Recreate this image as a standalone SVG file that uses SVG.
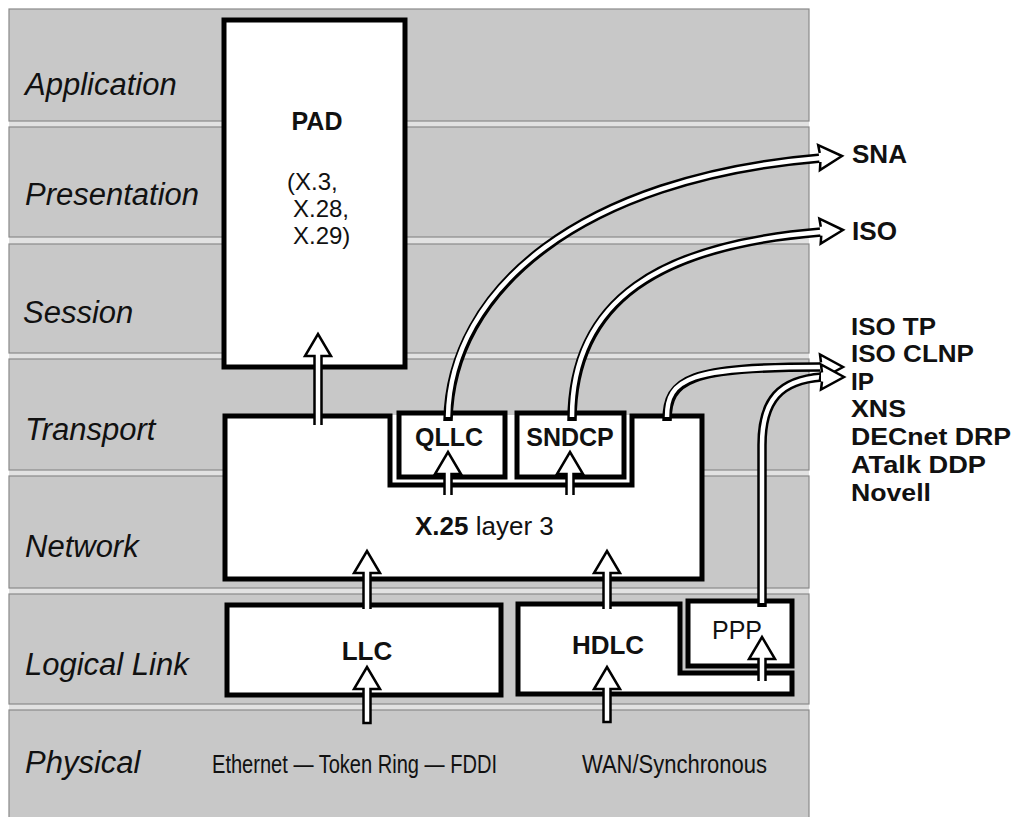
<svg xmlns="http://www.w3.org/2000/svg" width="1015" height="817" viewBox="0 0 1015 817">
<defs>
<style>
.bg{fill:#e2e2e2}
.band{fill:#c8c8c8;stroke:#8a8a8a;stroke-width:1.2}
.box{fill:#fff;stroke:#000;stroke-width:5;stroke-linejoin:miter}
.arr{fill:#fff;stroke:#000;stroke-width:2.5;stroke-linejoin:miter}
.tO{fill:none;stroke:#000;stroke-width:9.5}
.tI{fill:none;stroke:#fff;stroke-width:4.5}
.hf{fill:#fff;stroke:none}
.hs{fill:none;stroke:#000;stroke-width:2.5;stroke-linejoin:miter}
text{font-family:"Liberation Sans",Arial,Helvetica,sans-serif;fill:#111}
.lbl{font-style:italic;font-size:31px}
.bd{font-weight:bold}
.t23{font-size:23px}
.t24{font-size:24px}
.t25{font-size:25px}
.t26{font-size:26px}
</style>
<g id="head">
<polygon class="hf" points="-23,-4.5 -23,-12.5 0,0 -23,12.5 -23,4.5"/>
<polyline class="hs" points="-22,-4.5 -23,-12.5 0,0 -23,12.5 -22,4.5"/>
</g>
</defs>

<g id="layers">
<rect class="bg" x="9" y="9" width="800" height="808"/>
<rect class="band" x="9" y="9" width="800" height="112"/>
<rect class="band" x="9" y="127" width="800" height="110"/>
<rect class="band" x="9" y="244" width="800" height="109"/>
<rect class="band" x="9" y="359" width="800" height="111"/>
<rect class="band" x="9" y="476" width="800" height="112"/>
<rect class="band" x="9" y="594" width="800" height="110"/>
<rect class="band" x="9" y="710" width="800" height="110"/>
<text class="lbl" x="25" y="95">Application</text>
<text class="lbl" x="25" y="205">Presentation</text>
<text class="lbl" x="23" y="323">Session</text>
<text class="lbl" x="25" y="440">Transport</text>
<text class="lbl" x="25" y="557">Network</text>
<text class="lbl" x="25" y="675">Logical Link</text>
<text class="lbl" x="25" y="773">Physical</text>
<text class="t25" x="212" y="773" textLength="285" lengthAdjust="spacingAndGlyphs">Ethernet — Token Ring — FDDI</text>
<text class="t25" x="582" y="773" textLength="185" lengthAdjust="spacingAndGlyphs">WAN/Synchronous</text>
</g>

<g id="pad">
<rect class="box" x="224" y="20" width="181" height="347"/>
<text class="t25 bd" x="317" y="130" text-anchor="middle">PAD</text>
<text class="t24" x="287" y="190">(X.3,</text>
<text class="t24" x="293" y="217">X.28,</text>
<text class="t24" x="293" y="244">X.29)</text>
</g>

<g id="x25">
<rect x="390" y="415" width="243" height="70" fill="#fff"/>
<path class="box" d="M225,416 H390 V485 H632 V416 H702 V579 H225 Z"/>
<text class="t26" x="415" y="535"><tspan class="bd">X.25</tspan>  layer 3</text>
</g>

<g id="qllc">
<rect class="box" x="399" y="413" width="106" height="64"/>
<text class="t25 bd" x="449" y="446" text-anchor="middle">QLLC</text>
</g>

<g id="sndcp">
<rect class="box" x="517" y="413" width="107" height="64"/>
<text class="t25 bd" x="570" y="446" text-anchor="middle">SNDCP</text>
</g>

<g id="llc">
<rect class="box" x="227" y="605" width="274" height="90"/>
<text class="t26 bd" x="367" y="660" text-anchor="middle">LLC</text>
</g>

<g id="hdlc">
<path class="box" d="M518,604 H680 V673 H792 V694 H518 Z"/>
<text class="t26 bd" x="608" y="654" text-anchor="middle">HDLC</text>
</g>

<g id="ppp">
<rect class="box" x="688" y="601" width="104" height="65"/>
<text class="t25" x="737" y="639" text-anchor="middle">PPP</text>
</g>

<g id="protocols">
<text class="t25 bd" x="852" y="163" textLength="55" lengthAdjust="spacingAndGlyphs">SNA</text>
<text class="t25 bd" x="852" y="240" textLength="45" lengthAdjust="spacingAndGlyphs">ISO</text>
<text class="t23 bd" x="851" y="335" textLength="85" lengthAdjust="spacingAndGlyphs">ISO TP</text>
<text class="t23 bd" x="851" y="362" textLength="123" lengthAdjust="spacingAndGlyphs">ISO CLNP</text>
<text class="t23 bd" x="851" y="390" textLength="23" lengthAdjust="spacingAndGlyphs">IP</text>
<text class="t23 bd" x="851" y="417" textLength="55" lengthAdjust="spacingAndGlyphs">XNS</text>
<text class="t23 bd" x="851" y="445" textLength="160" lengthAdjust="spacingAndGlyphs">DECnet DRP</text>
<text class="t23 bd" x="851" y="473" textLength="135" lengthAdjust="spacingAndGlyphs">ATalk DDP</text>
<text class="t23 bd" x="851" y="501" textLength="80" lengthAdjust="spacingAndGlyphs">Novell</text>
</g>

<g id="connectors">
<path class="arr" d="M314.5,425 V356 H305 L318,334 L331,356 H321.5 V425"/>
<path class="arr" d="M444.5,495 V474 H435 L448,452 L461,474 H451.5 V495"/>
<path class="arr" d="M566.5,495 V474 H557 L570,452 L583,474 H573.5 V495"/>
<path class="arr" d="M363.5,609 V573 H354 L367,551 L380,573 H370.5 V609"/>
<path class="arr" d="M603.5,609 V573 H594 L607,551 L620,573 H610.5 V609"/>
<path class="arr" d="M363.5,723 V689 H354 L367,667 L380,689 H370.5 V723 Z"/>
<path class="arr" d="M603.5,722 V689 H594 L607,667 L620,689 H610.5 V722 Z"/>
<path class="arr" d="M758.5,681 V659 H749 L762,637 L775,659 H765.5 V681"/>

<path class="tO" d="M448,421 C450,290 580,178 821,158"/>
<path class="tI" d="M448,417 C450,290 580,178 821,158"/>
<use href="#head" transform="translate(842,156) rotate(-4)"/>

<path class="tO" d="M572,421 C572,300 660,245 821,232"/>
<path class="tI" d="M572,417 C572,300 660,245 821,232"/>
<use href="#head" transform="translate(843,230) rotate(-3)"/>

<path class="tO" d="M667,421 C667,378 690,367 821,367"/>
<path class="tI" d="M667,417 C667,378 690,367 821,367"/>
<path class="tO" d="M762,607 V445 C762,400 780,380 822,377"/>
<path class="tI" d="M762,603 V445 C762,400 780,380 822,377"/>
<use href="#head" transform="translate(843,367)"/>
<use href="#head" transform="translate(844,377)"/>
</g>
</svg>
